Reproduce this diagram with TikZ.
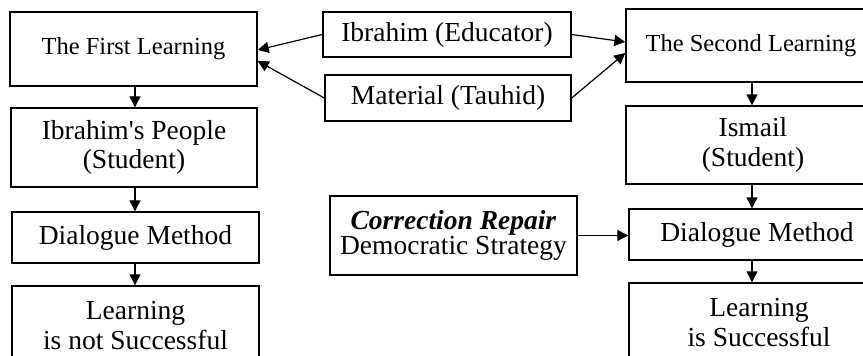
\documentclass[tikz,border=0pt]{standalone}
\usepackage{fontspec}
\setmainfont{Liberation Serif}
\newfontfamily\plainserif{Liberation Serif}
\usetikzlibrary{arrows.meta}
\begin{document}
\begin{tikzpicture}[x=1pt,y=-1pt,
 box/.style={draw=black,line width=1.4pt,inner sep=0pt,align=center,font=\fontsize{27.5}{29.5}\selectfont},
 small/.style={font=\fontsize{24.5}{28}\selectfont},
 arr/.style={line width=1.2pt,-{Triangle[length=11pt,width=11pt]}}]
\path[use as bounding box] (0,0) rectangle (863,356);
\clip (0,0) rectangle (863,356);
% left column
\node[box,small,minimum width=247pt,minimum height=74pt] (L1) at (133.5,49) {The First Learning};
\node[box,minimum width=246pt,minimum height=79pt] (L2) at (134,147.5) {Ibrahim{\plainserif '}s People\\(Student)};
\node[box,minimum width=247pt,minimum height=51pt] (L3) at (135.5,237.5) {Dialogue Method};
\node[box,minimum width=247pt,minimum height=79pt] (L4) at (135.5,325.5) {Learning\\is not Successful};
% middle
\node[box,minimum width=248pt,minimum height=45pt] (M1) at (447,34.5) {Ibrahim (Educator)};
\node[box,minimum width=246pt,minimum height=46pt] (M2) at (448,98) {Material (Tauhid)};
\node[box,minimum width=247pt,minimum height=79pt,font=\fontsize{27.5}{25}\selectfont] (M3) at (453.5,235.5) {\textbf{\textit{Correction Repair}}\\Democratic Strategy};
% right column
\node[box,small,minimum width=250pt,minimum height=73pt] (R1) at (751,45.5) {The Second Learning};
\node[box,minimum width=254pt,minimum height=78pt] (R2) at (753,145) {Ismail\\(Student)};
\node[box,minimum width=256pt,minimum height=51pt] (R3) at (757,234.5) {Dialogue Method};
\node[box,minimum width=260pt,minimum height=79pt] (R4) at (759,322.5) {Learning\\is Successful};
% axes for vertical arrows
\coordinate (axL) at (135,0);
\coordinate (axR) at (752,0);
\draw[arr] (L1.south -| axL) -- (L2.north -| axL);
\draw[arr] (L2.south -| axL) -- (L3.north -| axL);
\draw[arr] (L3.south -| axL) -- (L4.north -| axL);
\draw[arr] (R1.south -| axR) -- (R2.north -| axR);
\draw[arr] (R2.south -| axR) -- (R3.north -| axR);
\draw[arr] (R3.south -| axR) -- (R4.north -| axR);
% diagonal arrows
\draw[arr] (M1.west) -- ([yshift=-1pt]L1.east);
\draw[arr] (M2.west) -- ([yshift=-12pt]L1.east);
\draw[arr] (M1.east) -- ([yshift=3.5pt]R1.west);
\draw[arr] (M2.east) -- ([yshift=-7.5pt]R1.west);
\draw[arr] (M3.east) -- (M3.east -| R3.west);
\end{tikzpicture}
\end{document}
